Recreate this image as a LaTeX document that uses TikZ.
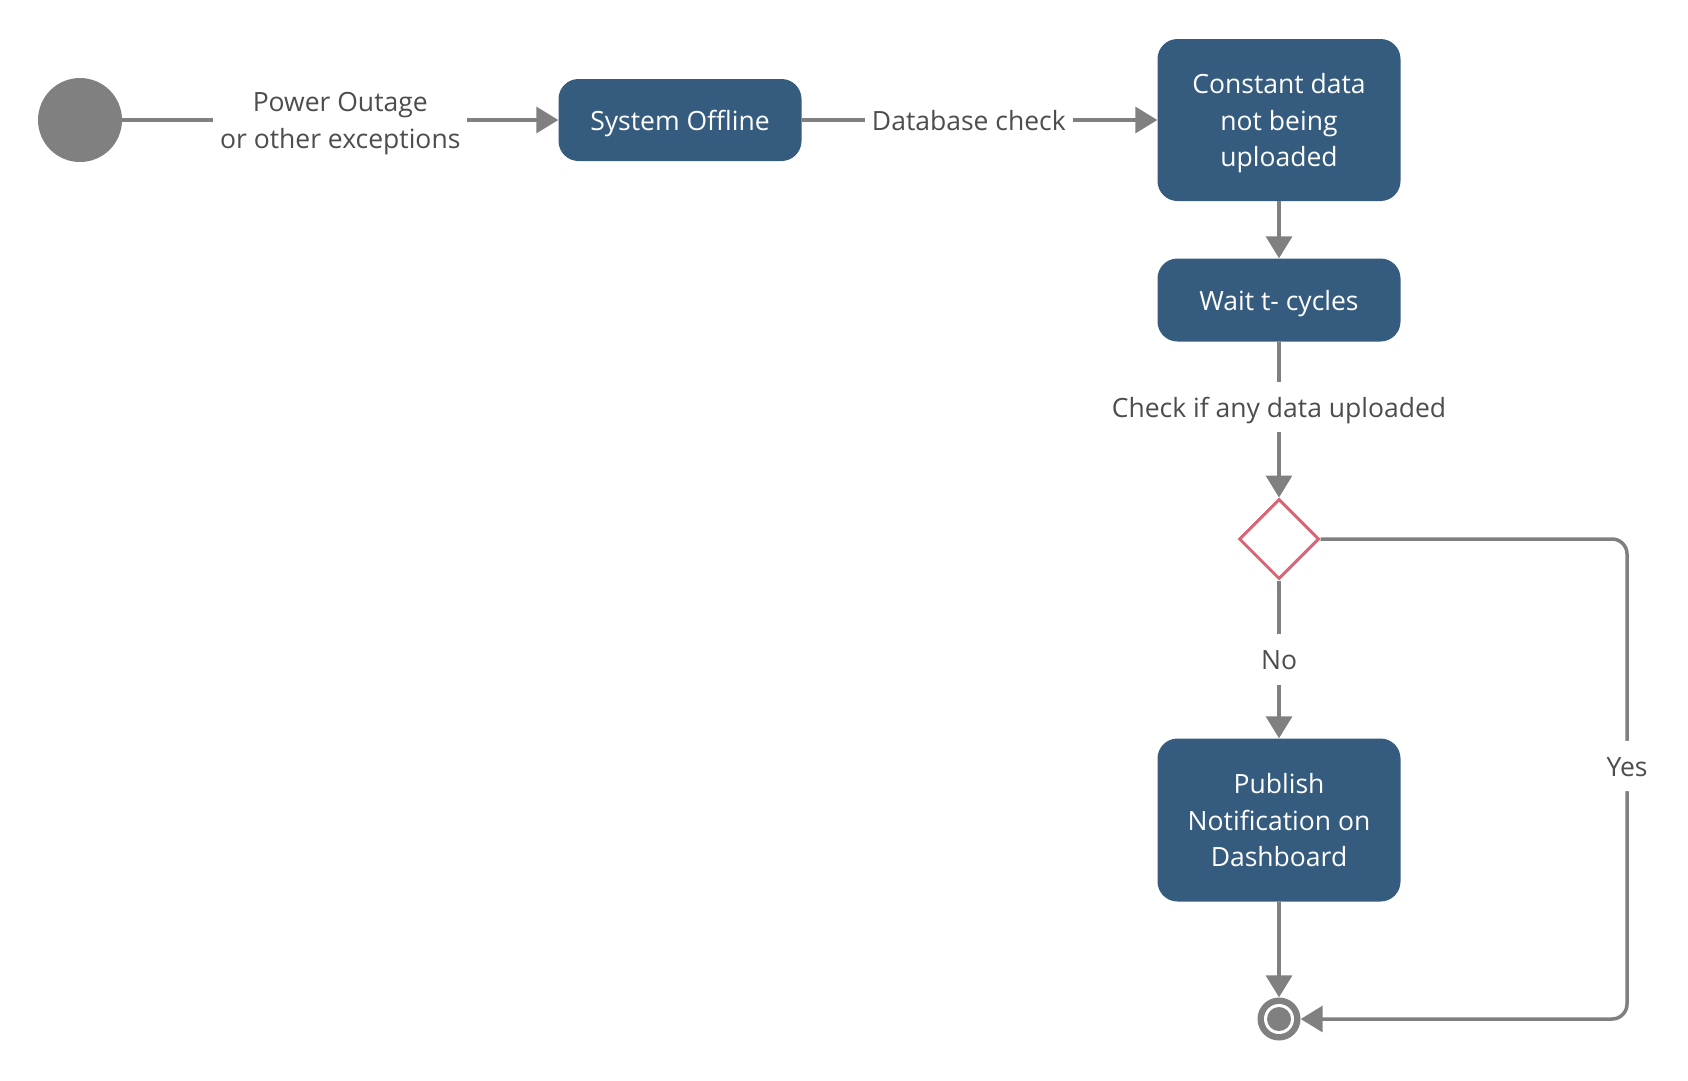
\documentclass[tikz,border=0pt]{standalone}
\usepackage{fontspec}
\setmainfont{Open Sans}
\usetikzlibrary{arrows.meta,shapes.geometric}

\definecolor{boxblue}{RGB}{53,92,126}
\definecolor{linegray}{RGB}{128,128,128}
\definecolor{textgray}{RGB}{77,77,77}
\definecolor{choicered}{RGB}{215,103,120}

% line box of the text: 28.3pt above the baseline, 7.9pt below
\newcommand{\linestrut}{\rule[-7.9pt]{0pt}{36.2pt}}

\tikzset{
    boxtext/.style={execute at begin node=\linestrut,execute at end node=\linestrut},
    state/.style={rectangle,rounded corners=20pt,fill=boxblue,text=white,
        minimum width=243pt,inner sep=0pt,align=center,boxtext},
    choice/.style={diamond,draw=choicered,line width=3pt,fill=white,
        minimum width=80pt,minimum height=80pt,inner sep=0pt},
    flow/.style={draw=linegray,line width=3.5pt},
    lbl/.style={fill=white,text=textgray,align=center,inner xsep=7pt,inner ysep=7pt,boxtext}
}

\begin{document}
\begin{tikzpicture}[x=1pt,y=-1pt,>={Triangle[length=22pt,width=26pt]},
    font=\fontsize{26.5}{36.5}\selectfont]
\useasboundingbox (0,0) rectangle (1688,1080);

\node[circle,fill=linegray,minimum size=84pt,inner sep=0pt] (start) at (80,120) {};
\node[state,minimum height=82pt] (offline) at (680,120) {System Offline};
\node[state,minimum height=162pt] (nodata) at (1279,120) {\linestrut Constant data\\not being\\uploaded};
\node[state,minimum height=83pt] (wait) at (1279,300) {Wait t- cycles};
\node[choice] (check) at (1279,539) {};
\node[state,minimum height=163pt] (publish) at (1279,820) {\linestrut Publish\\Notification on\\Dashboard};
\node[circle,fill=linegray,minimum size=43pt,inner sep=0pt] (stop) at (1279,1019) {};
\fill[white] (stop) circle[radius=15pt];
\fill[linegray] (stop) circle[radius=12pt];
\coordinate (yestop) at (1627,539);
\coordinate (yesbot) at (1627,1019);

\draw[flow,->] (start) -- node[lbl] {\linestrut Power Outage\\or other exceptions} (offline);
\draw[flow,->] (offline) -- node[lbl,pos=0.47] {Database check} (nodata);
\draw[flow,->] (nodata) -- (wait);
\draw[flow,->] (wait) -- node[lbl,pos=0.42] {Check if any data uploaded} (check);
\draw[flow,->] (check) -- node[lbl] {No} (publish);
\draw[flow,->] (publish) -- (stop);
\draw[flow,->,rounded corners=15pt] (check) -- (yestop) -- node[lbl,pos=0.473] {Yes} (yesbot) -- (stop);
\end{tikzpicture}
\end{document}
